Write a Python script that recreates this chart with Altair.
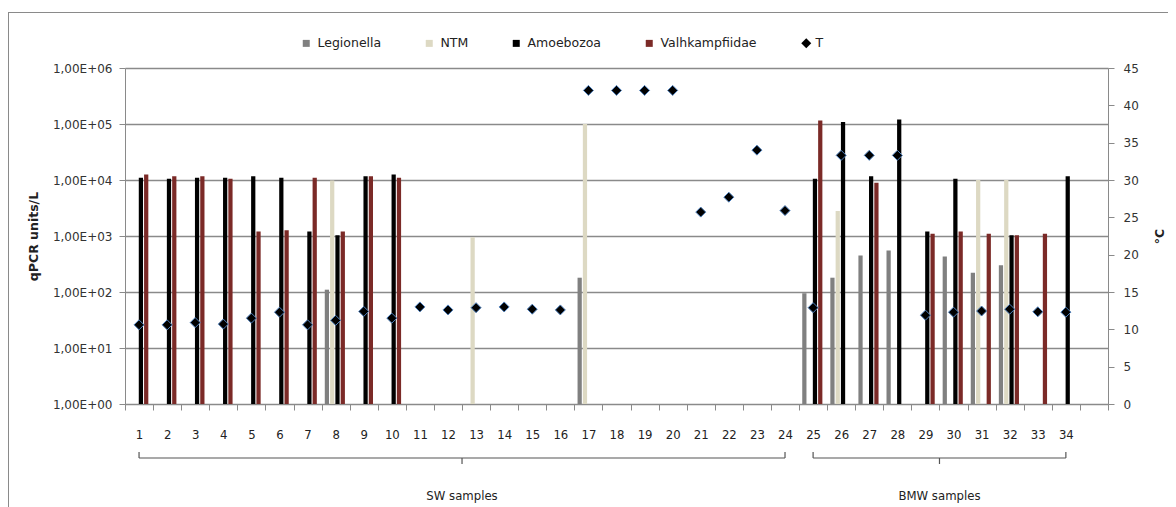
import json
import altair as alt
import pandas as pd

# ---------------- data ----------------
samples = [str(i) for i in range(1, 35)]
categories = samples + [" "]          # trailing empty slot as in the original

series_names = ["Legionella", "NTM", "Amoebozoa", "Valhkampfiidae"]
series_colors = ["#808080", "#DDD9C3", "#000000", "#7B2A27"]

legionella = [None, None, None, None, None, None, None, 110, None, None,
              None, None, None, None, None, None, 180, None, None, None,
              None, None, None, None, 95, 180, 450, 550, None, 430,
              220, 300, None, None]
ntm = [None, None, None, None, None, None, None, 9800, None, None,
       None, None, 950, None, None, None, 100000, None, None, None,
       None, None, None, None, None, 2800, None, None, None, None,
       10000, 10000, None, None]
amoebozoa = [11000, 10500, 11000, 11000, 11700, 11000, 1200, 1030, 11700, 12500,
             None, None, None, None, None, None, None, None, None, None,
             None, None, None, None, 10500, 109000, 11700, 120000, 1200, 10500,
             None, 1030, None, 11700]
valhkampfiidae = [12500, 11700, 11700, 10500, 1200, 1270, 11000, 1200, 11700, 11000,
                  None, None, None, None, None, None, None, None, None, None,
                  None, None, None, None, 115000, None, 8900, None, 1100, 1200,
                  1100, 1030, 1100, None]
temperature = [10.6, 10.6, 10.9, 10.7, 11.5, 12.3, 10.6, 11.2, 12.4, 11.5,
               13.0, 12.6, 12.9, 13.0, 12.7, 12.6, 42.0, 42.0, 42.0, 42.0,
               25.7, 27.7, 34.0, 25.9, 12.9, 33.3, 33.3, 33.3, 11.9, 12.3,
               12.45, 12.7, 12.35, 12.3]

y_ticks = [1, 10, 100, 1000, 10000, 100000, 1000000]
y_tick_labels = ["1,00E+00", "1,00E+01", "1,00E+02", "1,00E+03",
                 "1,00E+04", "1,00E+05", "1,00E+06"]
t_ticks = [0, 5, 10, 15, 20, 25, 30, 35, 40, 45]

group_names = ["SW samples", "BMW samples"]
group_first = ["1", "25"]
group_last = ["24", "34"]
group_mid = ["12", "29"]

# ---------------- tables ----------------
rows = []
for name, vals in zip(series_names, [legionella, ntm, amoebozoa, valhkampfiidae]):
    for s, v in zip(samples, vals):
        if v is not None:
            rows.append({"sample": s, "series": name, "value": v})
bars_df = pd.DataFrame(rows)
temp_df = pd.DataFrame({"sample": samples, "T": temperature, "tl": ["T"] * len(samples)})
groups_df = pd.DataFrame({"name": group_names, "first": group_first,
                          "last": group_last, "mid": group_mid})

W, H = 983, 336
GRAY = "#8a8a8a"
FONT = "DejaVu Sans"
NARROW = "DejaVu Sans Condensed"

xscale = alt.Scale(domain=categories, paddingInner=0, paddingOuter=0)
xaxis = alt.Axis(title=None, labelAngle=0, tickBand="extent", tickSize=6,
                 tickColor=GRAY, domainColor=GRAY, labelFont=NARROW,
                 labelFontSize=13, labelColor="#222", labelPadding=18,
                 labelExpr="datum.value == ' ' ? '' : datum.label", grid=False)

label_expr = json.dumps(y_tick_labels) + "[round(log(datum.value)/LN10)]"

bars = alt.Chart(bars_df).mark_bar().encode(
    x=alt.X("sample:N", scale=xscale, sort=categories, axis=xaxis),
    xOffset=alt.XOffset("series:N", sort=series_names,
                        scale=alt.Scale(domain=series_names, paddingInner=0.2,
                                        paddingOuter=0.75, align=0.4)),
    y=alt.Y("value:Q",
            scale=alt.Scale(type="log", domain=[1, 1000000]),
            axis=alt.Axis(title="qPCR units/L", values=y_ticks, labelExpr=label_expr,
                          grid=True, gridColor=GRAY, gridWidth=1.5, tickSize=6,
                          tickColor=GRAY, domainColor=GRAY, labelFont=FONT,
                          labelFontSize=12, labelColor="#333", labelPadding=7,
                          titleFont=FONT, titleFontSize=12.5, titleFontWeight="bold",
                          titleColor="#222", titlePadding=12)),
    y2=alt.datum(1),
    color=alt.Color("series:N", sort=series_names,
                    scale=alt.Scale(domain=series_names, range=series_colors),
                    legend=alt.Legend(title=None, orient="none", direction="horizontal",
                                      legendX=175, legendY=-31, symbolType="square",
                                      symbolSize=49, symbolStrokeWidth=0,
                                      labelOffset=5, columnPadding=41, padding=0,
                                      labelFont=FONT, labelFontSize=12.5,
                                      labelColor="#222")),
)

points = alt.Chart(temp_df).mark_point(filled=True, fill="black", stroke="#4F81BD",
                                       strokeWidth=1, size=100, opacity=1).encode(
    x=alt.X("sample:N", scale=xscale, sort=categories, axis=xaxis),
    y=alt.Y("T:Q", scale=alt.Scale(domain=[0, 45]),
            axis=alt.Axis(orient="right", title="°C", values=t_ticks, grid=False,
                          tickSize=6, tickColor=GRAY, domainColor=GRAY,
                          labelFont=FONT, labelFontSize=12, labelColor="#333",
                          labelPadding=9, titleFont=FONT, titleFontSize=12.5,
                          titleFontWeight="bold", titleColor="#222",
                          titleAngle=-90, titlePadding=28)),
    shape=alt.Shape("tl:N", scale=alt.Scale(domain=["T"], range=["diamond"]),
                    legend=alt.Legend(title=None, orient="none", legendX=675,
                                      legendY=-31, symbolSize=100,
                                      symbolFillColor="black",
                                      symbolStrokeColor="#4F81BD",
                                      symbolStrokeWidth=1, labelOffset=3, padding=0,
                                      labelFont=FONT, labelFontSize=12.5,
                                      labelColor="#222")),
)

brace_h = alt.Chart(groups_df).mark_rule(color="#555", strokeWidth=1.2).encode(
    x=alt.X("first:N", scale=xscale, axis=xaxis),
    x2="last:N",
    y=alt.value(390),
)
brace_l = alt.Chart(groups_df).mark_rule(color="#555", strokeWidth=1.2).encode(
    x=alt.X("first:N", scale=xscale, axis=xaxis),
    y=alt.value(384), y2=alt.value(390),
)
brace_r = alt.Chart(groups_df).mark_rule(color="#555", strokeWidth=1.2).encode(
    x=alt.X("last:N", scale=xscale, axis=xaxis),
    y=alt.value(384), y2=alt.value(390),
)
brace_c = alt.Chart(groups_df).mark_rule(color="#555", strokeWidth=1.2).encode(
    x=alt.X("mid:N", scale=xscale, axis=xaxis, bandPosition=1),
    y=alt.value(390), y2=alt.value(396),
)
group_text = alt.Chart(groups_df).mark_text(font=NARROW, fontSize=13,
                                            color="#222").encode(
    x=alt.X("mid:N", scale=xscale, axis=xaxis, bandPosition=1),
    y=alt.value(428),
    text="name:N",
)

border_top = alt.Chart(groups_df).mark_rule(color=GRAY, strokeWidth=1).encode(
    x=alt.value(-117), x2=alt.value(1060), y=alt.value(-55.5))
border_left = alt.Chart(groups_df).mark_rule(color=GRAY, strokeWidth=1).encode(
    x=alt.value(-116.5), y=alt.value(-56), y2=alt.value(440))

left_layer = alt.layer(bars, brace_h, brace_l, brace_r, brace_c, group_text,
                       border_top, border_left)

chart = alt.layer(left_layer, points).resolve_scale(
    y="independent", shape="independent", color="independent"
).properties(
    width=W, height=H,
    autosize=alt.AutoSizeParams(type="none"),
    padding={"left": 117, "top": 60, "right": 60, "bottom": 103},
    background="white",
).configure_view(stroke=None)

chart.save("out.html", embed_options={"renderer": "svg", "actions": False})
